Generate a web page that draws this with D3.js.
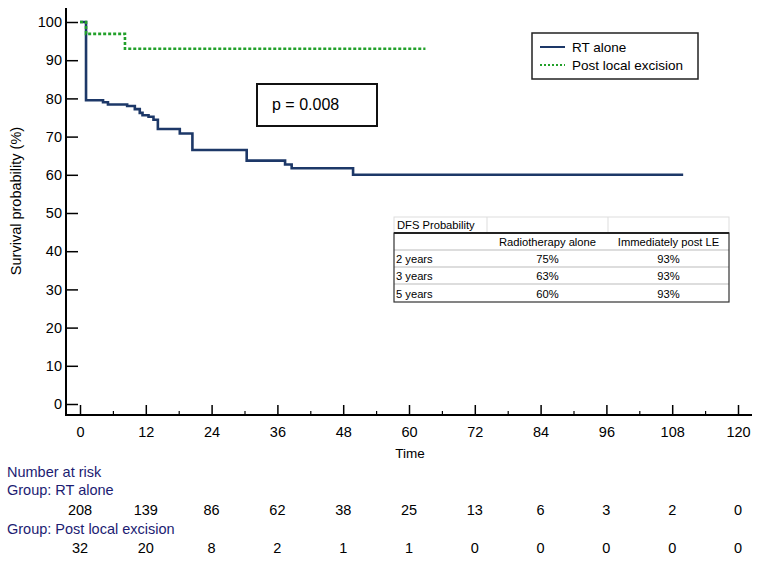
<!DOCTYPE html>
<html>
<head>
<meta charset="utf-8">
<script src="https://cdn.jsdelivr.net/npm/d3@7"></script>
<style>
  body { margin: 0; background: #fff; }
  text { font-family: Arial, "Liberation Sans", sans-serif; }
</style>
</head>
<body>
<div id="chart"></div>
<script>
// data
var rtTimes = [0, 1.1, 4.2, 5.1, 8.6, 10.0, 10.9, 11.4, 12.5, 13.4, 14.2, 18.2, 20.5, 30.4, 37.4, 38.6, 49.8, 110];
var rtSurv  = [100, 79.5, 79.0, 78.4, 78.0, 77.2, 76.2, 75.6, 75.2, 74.4, 72.0, 70.8, 66.5, 63.7, 62.7, 61.7, 60.0, 60.0];
var leTimes = [0, 1.1, 8.2, 63];
var leSurv  = [100, 96.9, 93.0, 93.0];

var xTicks = [0, 12, 24, 36, 48, 60, 72, 84, 96, 108, 120];
var yTicks = [0, 10, 20, 30, 40, 50, 60, 70, 80, 90, 100];
var riskRT = [208, 139, 86, 62, 38, 25, 13, 6, 3, 2, 0];
var riskLE = [32, 20, 8, 2, 1, 1, 0, 0, 0, 0, 0];

var tableHead = ["", "Radiotherapy alone", "Immediately post LE"];
var tableRows = ["2 years", "3 years", "5 years"];
var tableRT = ["75%", "63%", "60%"];
var tableLE = ["93%", "93%", "93%"];

var svg_width = 759, svg_height = 564;
var navy = "#1d3868", green = "#22a02a", labelBlue = "#1c1c72";

var svg = d3.select("#chart").append("svg")
  .attr("width", svg_width).attr("height", svg_height);

var x = d3.scaleLinear().domain([0, 120]).range([80, 738]);
var y = d3.scaleLinear().domain([0, 100]).range([404, 22]);

var axisX = 66, axisY = 415;

// axes lines
svg.append("line").attr("x1", axisX).attr("x2", axisX).attr("y1", 8).attr("y2", axisY)
  .attr("stroke", "#000").attr("stroke-width", 2);
svg.append("line").attr("x1", axisX - 1).attr("x2", 752).attr("y1", axisY).attr("y2", axisY)
  .attr("stroke", "#000").attr("stroke-width", 2);

// y axis
var yAxis = svg.append("g").attr("transform", `translate(${axisX},0)`)
  .call(d3.axisLeft(y).tickValues(yTicks).tickSizeInner(-12).tickSizeOuter(0).tickPadding(4));
yAxis.select(".domain").remove();
yAxis.selectAll("line").attr("stroke-width", 1.5);
yAxis.selectAll("text").attr("font-size", 14.5).attr("fill", "#000")
  .style("font-family", "Arial, 'Liberation Sans', sans-serif");

// x axis majors
var xAxis = svg.append("g").attr("transform", `translate(0,${axisY})`)
  .call(d3.axisBottom(x).tickValues(xTicks).tickSizeInner(-10).tickSizeOuter(0).tickPadding(12));
xAxis.select(".domain").remove();
xAxis.selectAll("line").attr("stroke-width", 1.5);
xAxis.selectAll("text").attr("font-size", 14.5).attr("fill", "#000")
  .style("font-family", "Arial, 'Liberation Sans', sans-serif");

// x axis minors
var xMinor = svg.append("g").attr("transform", `translate(0,${axisY})`)
  .call(d3.axisBottom(x).tickValues(d3.range(6, 120, 12)).tickSizeInner(-4).tickSizeOuter(0).tickFormat(""));
xMinor.select(".domain").remove();
xMinor.selectAll("line").attr("stroke-width", 1.2);

// axis titles
svg.append("text").attr("transform", "translate(21,201) rotate(-90)")
  .attr("text-anchor", "middle").attr("font-size", 14.5).text("Survival probability (%)");
svg.append("text").attr("x", 410).attr("y", 458)
  .attr("text-anchor", "middle").attr("font-size", 13.5).text("Time");

// curves
var rtData = rtTimes.map(function(t, i) { return [t, rtSurv[i]]; });
var leData = leTimes.map(function(t, i) { return [t, leSurv[i]]; });
var line = d3.line().x(d => x(d[0])).y(d => y(d[1])).curve(d3.curveStepAfter);

svg.append("path").datum(rtData).attr("d", line)
  .attr("fill", "none").attr("stroke", navy).attr("stroke-width", 2.6);
svg.append("path").datum(leData).attr("d", line)
  .attr("fill", "none").attr("stroke", green).attr("stroke-width", 2.6)
  .attr("stroke-dasharray", "3,2");

// legend
var legend = svg.append("g");
legend.append("rect").attr("x", 532).attr("y", 33).attr("width", 166).attr("height", 46)
  .attr("fill", "#fff").attr("stroke", "#222").attr("stroke-width", 1.5);
legend.append("line").attr("x1", 540).attr("x2", 565).attr("y1", 47).attr("y2", 47)
  .attr("stroke", navy).attr("stroke-width", 2);
legend.append("line").attr("x1", 540).attr("x2", 565).attr("y1", 65).attr("y2", 65)
  .attr("stroke", green).attr("stroke-width", 2).attr("stroke-dasharray", "2,2");
legend.append("text").attr("x", 572).attr("y", 52).attr("font-size", 13.5).text("RT alone");
legend.append("text").attr("x", 572).attr("y", 70).attr("font-size", 13.5).text("Post local excision");

// p-value box
svg.append("rect").attr("x", 257).attr("y", 84).attr("width", 120).attr("height", 42)
  .attr("fill", "#fff").attr("stroke", "#111").attr("stroke-width", 2);
svg.append("text").attr("x", 272).attr("y", 110).attr("font-size", 16).text("p = 0.008");

// DFS table
var tb = svg.append("g");
var tx0 = 394, tx1 = 487, tx2 = 608, tx3 = 729;
var rowY = [217, 233, 250, 267, 284, 302];
// light top grid
tb.append("rect").attr("x", tx0).attr("y", rowY[0]).attr("width", tx3 - tx0).attr("height", rowY[1] - rowY[0])
  .attr("fill", "#fff").attr("stroke", "#ddd").attr("stroke-width", 1);
[tx1, tx2].forEach(function(cx) {
  tb.append("line").attr("x1", cx).attr("x2", cx).attr("y1", rowY[0]).attr("y2", rowY[1])
    .attr("stroke", "#ddd");
});
// inner row lines
[rowY[2], rowY[3], rowY[4]].forEach(function(ry) {
  tb.append("line").attr("x1", tx0).attr("x2", tx3).attr("y1", ry).attr("y2", ry)
    .attr("stroke", "#bbb").attr("stroke-width", 1);
});
// dark frame
tb.append("rect").attr("x", tx0).attr("y", rowY[1]).attr("width", tx3 - tx0).attr("height", rowY[5] - rowY[1])
  .attr("fill", "none").attr("stroke", "#333").attr("stroke-width", 1.2);
tb.append("line").attr("x1", tx0).attr("x2", tx3).attr("y1", rowY[1]).attr("y2", rowY[1])
  .attr("stroke", "#222").attr("stroke-width", 2);

var tfs = 11.2;
tb.append("text").attr("x", tx0 + 3).attr("y", rowY[1] - 4).attr("font-size", tfs).text("DFS Probability");
tb.append("text").attr("x", (tx1 + tx2) / 2).attr("y", rowY[2] - 4).attr("text-anchor", "middle")
  .attr("font-size", tfs).text(tableHead[1]);
tb.append("text").attr("x", (tx2 + tx3) / 2).attr("y", rowY[2] - 4).attr("text-anchor", "middle")
  .attr("font-size", tfs).text(tableHead[2]);
tableRows.forEach(function(r, i) {
  var by = rowY[i + 3] - 4;
  tb.append("text").attr("x", tx0 + 2).attr("y", by).attr("font-size", tfs).text(r);
  tb.append("text").attr("x", (tx1 + tx2) / 2).attr("y", by).attr("text-anchor", "middle")
    .attr("font-size", tfs).text(tableRT[i]);
  tb.append("text").attr("x", (tx2 + tx3) / 2).attr("y", by).attr("text-anchor", "middle")
    .attr("font-size", tfs).text(tableLE[i]);
});

// number at risk
svg.append("text").attr("x", 7).attr("y", 477).attr("font-size", 14.5).attr("fill", labelBlue).text("Number at risk");
svg.append("text").attr("x", 7).attr("y", 495).attr("font-size", 14.5).attr("fill", labelBlue).text("Group: RT alone");
svg.append("text").attr("x", 7).attr("y", 534).attr("font-size", 14.5).attr("fill", labelBlue).text("Group: Post local excision");

svg.selectAll(".riskRT").data(riskRT).enter().append("text")
  .attr("class", "riskRT")
  .attr("x", (d, i) => x(xTicks[i])).attr("y", 515)
  .attr("text-anchor", "middle").attr("font-size", 14.5).text(d => d);
svg.selectAll(".riskLE").data(riskLE).enter().append("text")
  .attr("class", "riskLE")
  .attr("x", (d, i) => x(xTicks[i])).attr("y", 553)
  .attr("text-anchor", "middle").attr("font-size", 14.5).text(d => d);
</script>
</body>
</html>
